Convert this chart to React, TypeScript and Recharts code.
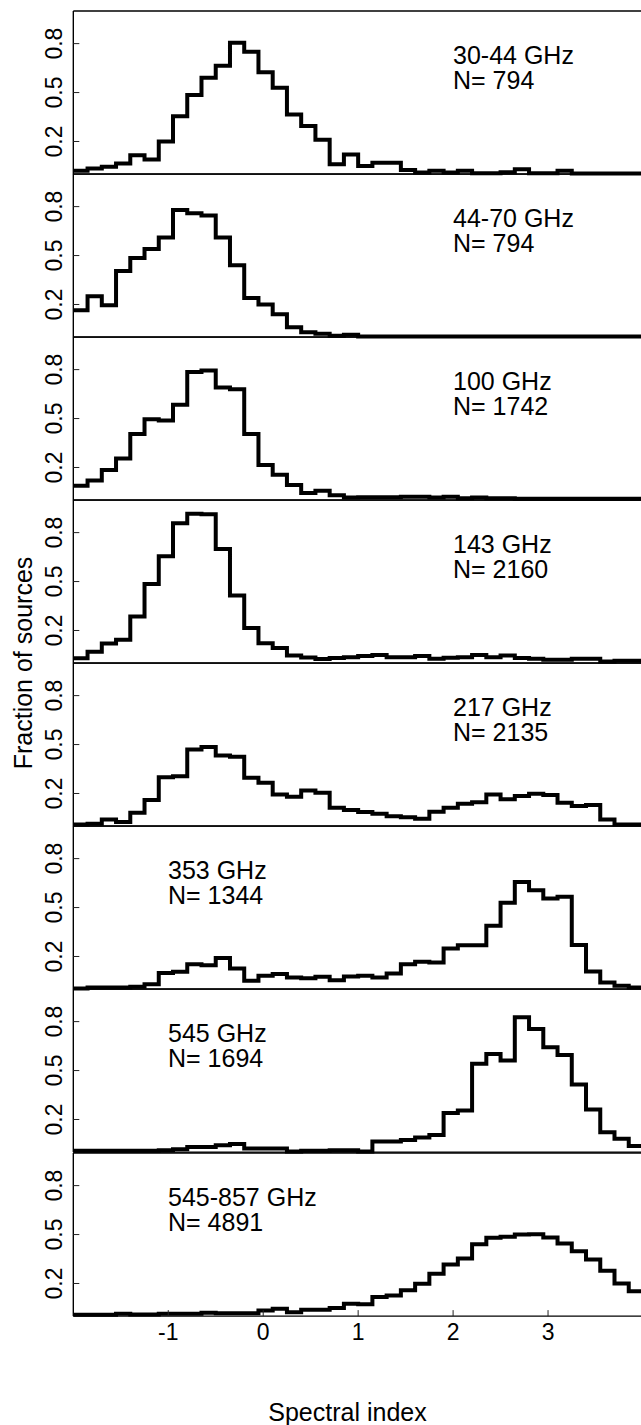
import React from 'react';
import { LineChart, Line, XAxis, YAxis } from 'recharts';

// Bin edges of the histograms (bin width 0.15, from -2 to 4)
const binStarts = [
  -2, -1.85, -1.7, -1.55, -1.4, -1.25, -1.1, -0.95, -0.8, -0.65,
  -0.5, -0.35, -0.2, -0.05, 0.1, 0.25, 0.4, 0.55, 0.7, 0.85,
  1.0, 1.15, 1.3, 1.45, 1.6, 1.75, 1.9, 2.05, 2.2, 2.35,
  2.5, 2.65, 2.8, 2.95, 3.1, 3.25, 3.4, 3.55, 3.7, 3.85, 4.0,
];

const xTicks = [-1, 0, 1, 2, 3];
const yTicks = [0.2, 0.5, 0.8];

const band30_44 = [0.02, 0.035, 0.045, 0.065, 0.115, 0.09, 0.2, 0.355, 0.485, 0.59, 0.665, 0.805, 0.75, 0.625, 0.53, 0.365, 0.295, 0.21, 0.06, 0.12, 0.05, 0.07, 0.07, 0.025, 0.01, 0.02, 0.01, 0.02, 0.005, 0.005, 0.012, 0.03, 0.005, 0.005, 0.02, 0.003, 0.003, 0.003, 0.003, 0.003];
const band44_70 = [0.165, 0.25, 0.195, 0.405, 0.485, 0.54, 0.61, 0.78, 0.76, 0.745, 0.61, 0.44, 0.24, 0.2, 0.14, 0.06, 0.03, 0.02, 0.008, 0.014, 0.003, 0.003, 0.003, 0.003, 0.003, 0.003, 0.003, 0.003, 0.003, 0.003, 0.003, 0.003, 0.003, 0.003, 0.003, 0.003, 0.003, 0.003, 0.003, 0.003];
const band100 = [0.088, 0.12, 0.185, 0.255, 0.405, 0.495, 0.488, 0.585, 0.785, 0.795, 0.69, 0.68, 0.405, 0.215, 0.155, 0.092, 0.043, 0.057, 0.03, 0.016, 0.018, 0.018, 0.018, 0.02, 0.02, 0.016, 0.02, 0.012, 0.016, 0.012, 0.012, 0.008, 0.008, 0.008, 0.008, 0.008, 0.008, 0.008, 0.008, 0.008];
const band143 = [0.03, 0.07, 0.12, 0.143, 0.285, 0.485, 0.655, 0.857, 0.915, 0.912, 0.7, 0.415, 0.215, 0.122, 0.092, 0.047, 0.035, 0.025, 0.031, 0.036, 0.043, 0.05, 0.036, 0.036, 0.043, 0.027, 0.033, 0.036, 0.05, 0.036, 0.046, 0.031, 0.027, 0.02, 0.02, 0.027, 0.027, 0.01, 0.015, 0.015];
const band217 = [0.01, 0.014, 0.04, 0.025, 0.082, 0.16, 0.3, 0.305, 0.47, 0.485, 0.433, 0.425, 0.296, 0.266, 0.194, 0.18, 0.219, 0.204, 0.112, 0.098, 0.086, 0.076, 0.061, 0.055, 0.045, 0.088, 0.112, 0.137, 0.147, 0.194, 0.164, 0.184, 0.198, 0.19, 0.143, 0.123, 0.129, 0.041, 0.01, 0.01];
const band353 = [0.004, 0.01, 0.01, 0.01, 0.014, 0.03, 0.098, 0.106, 0.153, 0.147, 0.19, 0.127, 0.051, 0.082, 0.092, 0.071, 0.067, 0.076, 0.055, 0.078, 0.082, 0.071, 0.096, 0.153, 0.167, 0.163, 0.249, 0.269, 0.269, 0.388, 0.53, 0.657, 0.606, 0.555, 0.567, 0.271, 0.108, 0.04, 0.02, 0.01];
const band545 = [0.008, 0.008, 0.008, 0.008, 0.008, 0.008, 0.012, 0.018, 0.032, 0.032, 0.042, 0.049, 0.022, 0.022, 0.022, 0.003, 0.008, 0.008, 0.012, 0.012, 0.004, 0.065, 0.065, 0.075, 0.09, 0.105, 0.24, 0.255, 0.541, 0.602, 0.561, 0.827, 0.755, 0.643, 0.596, 0.414, 0.261, 0.122, 0.082, 0.037];
const band545_857 = [0.008, 0.008, 0.008, 0.014, 0.01, 0.01, 0.014, 0.014, 0.014, 0.02, 0.018, 0.018, 0.018, 0.035, 0.045, 0.024, 0.039, 0.039, 0.049, 0.076, 0.072, 0.117, 0.127, 0.158, 0.199, 0.26, 0.317, 0.353, 0.441, 0.48, 0.486, 0.5, 0.502, 0.482, 0.445, 0.398, 0.347, 0.278, 0.2, 0.153];

const panelSeries = [band30_44, band44_70, band100, band143, band217, band353, band545, band545_857];
const bandNames = ['30-44 GHz', '44-70 GHz', '100 GHz', '143 GHz', '217 GHz', '353 GHz', '545 GHz', '545-857 GHz'];
const sourceCounts = [794, 794, 1742, 2160, 2135, 1344, 1694, 4891];

// layout
const PLOT_LEFT = 73.3;
const PLOT_RIGHT = 643.0;
const PANEL_TOP0 = 10.7;
const PANEL_H = 163.12;
const SVG_W = 660;
const PAD = 5;
const FONT = '"Liberation Sans", Arial, Helvetica, sans-serif';
const labelLeftX = [453, 453, 453, 453, 453, 168, 168, 168];

function Panel({ idx, values, last }: { idx: number; values: number[]; last: boolean }) {
  const data = binStarts.map((x, i) => ({ x, v: values[Math.min(i, values.length - 1)] }));
  const top = PANEL_TOP0 + idx * PANEL_H;
  const extraBottom = last ? 45 : PAD;
  const h = PAD + PANEL_H + extraBottom;

  const yTick = (p: any) => {
    const cy = p.y;
    return (
      <text
        x={62}
        y={cy}
        transform={`rotate(-90 62 ${cy})`}
        textAnchor="middle"
        fontSize={23}
        fontFamily={FONT}
        fill="#000"
      >
        {String(p.payload.value)}
      </text>
    );
  };

  const xTick = (p: any) => (
    <text
      x={p.x}
      y={PAD + PANEL_H + 24.3}
      textAnchor="middle"
      fontSize={23}
      fontFamily={FONT}
      fill="#000"
    >
      {String(p.payload.value)}
    </text>
  );

  const axisLine = { stroke: '#000', strokeWidth: 1.4 };
  const tickLine = { stroke: '#222', strokeWidth: 1 };

  return (
    <div style={{ position: 'absolute', left: 0, top: top - PAD }}>
      <LineChart
        width={SVG_W}
        height={h}
        data={data}
        margin={{ top: PAD, right: SVG_W - PLOT_RIGHT, bottom: extraBottom, left: PLOT_LEFT }}
      >
        <XAxis
          xAxisId="b"
          dataKey="x"
          type="number"
          domain={[-2, 4]}
          ticks={xTicks}
          interval={0}
          orientation="bottom"
          mirror
          tickSize={6}
          axisLine={axisLine}
          tickLine={tickLine}
          tick={last ? xTick : false}
        />
        <XAxis
          xAxisId="t"
          dataKey="x"
          type="number"
          domain={[-2, 4]}
          ticks={xTicks}
          interval={0}
          orientation="top"
          mirror
          tickSize={6}
          axisLine={axisLine}
          tickLine={tickLine}
          tick={false}
        />
        <YAxis
          yAxisId="l"
          type="number"
          domain={[0, 1]}
          ticks={yTicks}
          interval={0}
          orientation="left"
          mirror
          tickSize={6}
          axisLine={axisLine}
          tickLine={tickLine}
          tick={yTick}
        />
        <YAxis
          yAxisId="r"
          type="number"
          domain={[0, 1]}
          ticks={yTicks}
          interval={0}
          orientation="right"
          mirror
          tickSize={6}
          axisLine={axisLine}
          tickLine={tickLine}
          tick={false}
        />
        <Line
          xAxisId="b"
          yAxisId="l"
          type="stepAfter"
          dataKey="v"
          stroke="#000"
          strokeWidth={4}
          strokeLinejoin="miter"
          dot={false}
          activeDot={false}
          isAnimationActive={false}
        />
      </LineChart>
    </div>
  );
}

export default function App() {
  return (
    <div
      style={{
        position: 'absolute',
        left: 0,
        top: 0,
        width: 641,
        height: 1425,
        overflow: 'hidden',
        background: '#fff',
      }}
    >
      {panelSeries.map((vals, i) => (
        <Panel key={i} idx={i} values={vals} last={i === panelSeries.length - 1} />
      ))}
      <svg
        width={641}
        height={1425}
        style={{ position: 'absolute', left: 0, top: 0, pointerEvents: 'none' }}
      >
        {bandNames.map((name, i) => {
          const top = PANEL_TOP0 + i * PANEL_H;
          return (
            <g key={name + i} fontFamily={FONT} fontSize={25} fill="#000">
              <text x={labelLeftX[i]} y={top + 53}>{name}</text>
              <text x={labelLeftX[i]} y={top + 78}>{`N= ${sourceCounts[i]}`}</text>
            </g>
          );
        })}
        <text
          x={31.5}
          y={663}
          transform="rotate(-90 31.5 663)"
          textAnchor="middle"
          fontFamily={FONT}
          fontSize={25}
          fill="#000"
        >
          Fraction of sources
        </text>
        <text x={347.5} y={1421} textAnchor="middle" fontFamily={FONT} fontSize={25} fill="#000">
          Spectral index
        </text>
      </svg>
    </div>
  );
}
